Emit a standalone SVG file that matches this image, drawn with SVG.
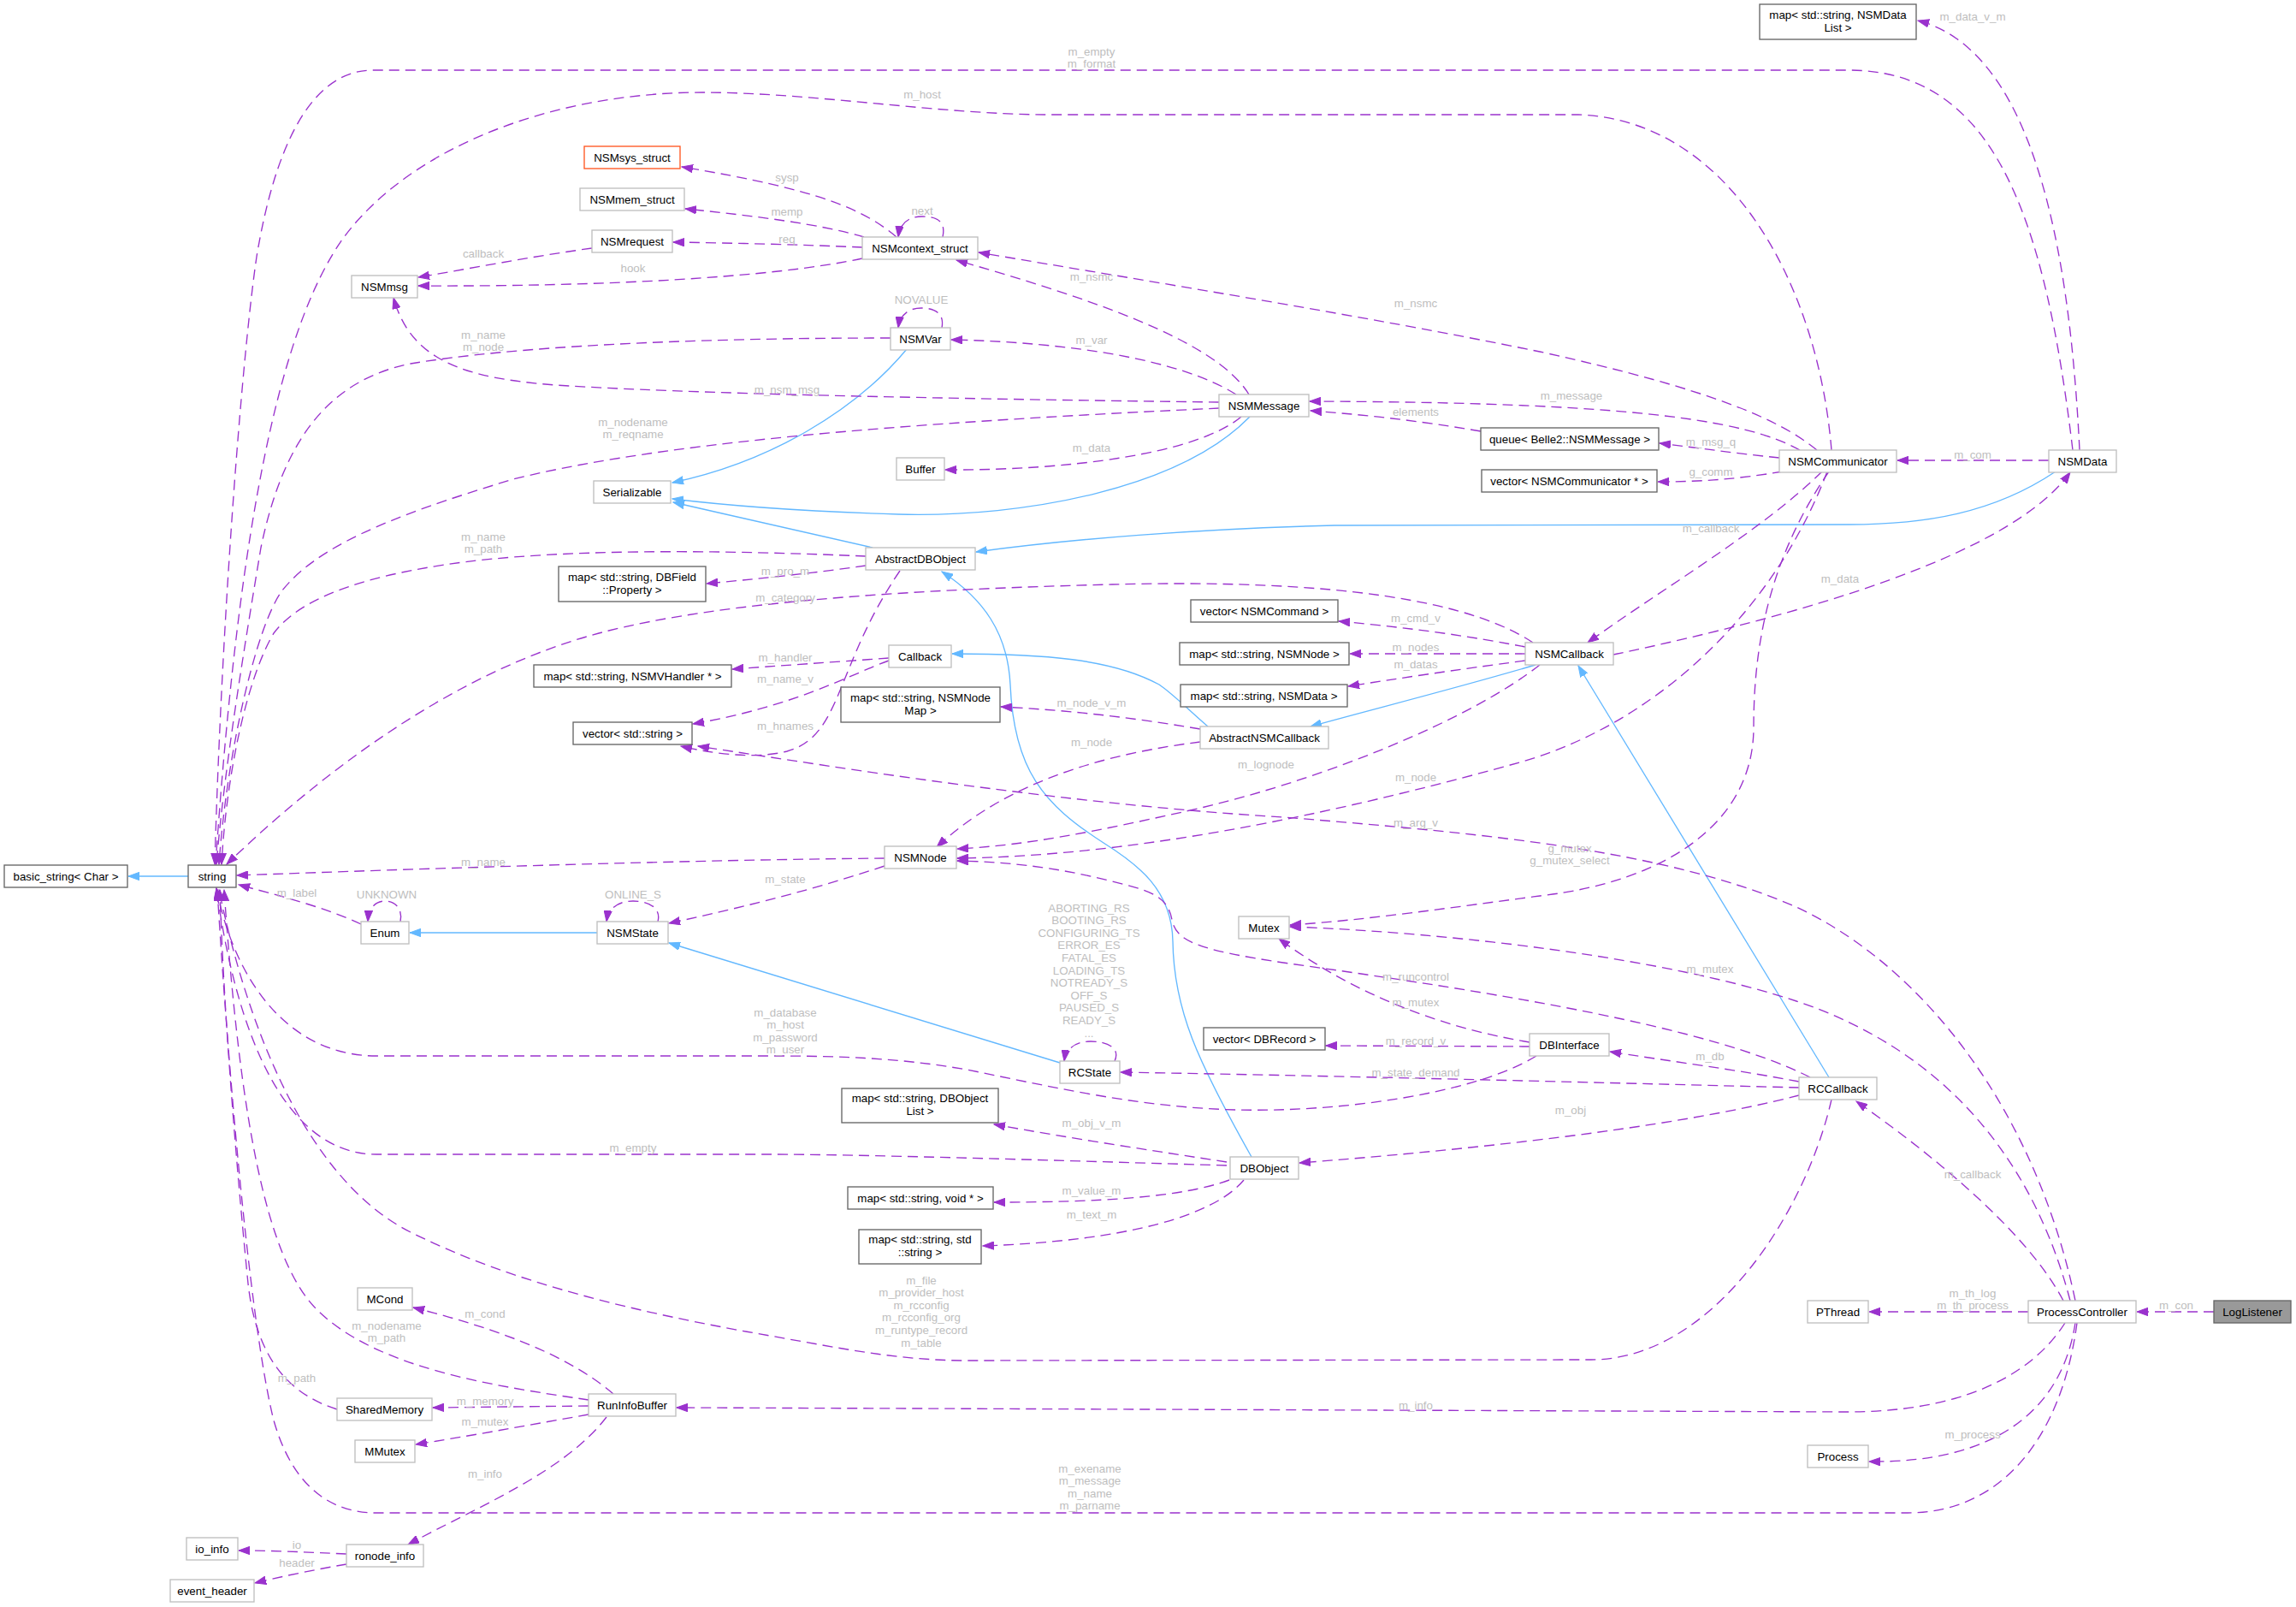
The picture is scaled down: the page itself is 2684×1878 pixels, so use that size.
<svg xmlns="http://www.w3.org/2000/svg" width="2684" height="1878" viewBox="0 0 2684 1878">
<defs>
<marker id="ap" markerUnits="userSpaceOnUse" markerWidth="14" markerHeight="10" viewBox="0 0 14 10" refX="13" refY="5" orient="auto"><path d="M0,0.3 L13,5 L0,9.7 Z" fill="#9a32cd" stroke="#9a32cd" stroke-width="1"/></marker>
<marker id="ab" markerUnits="userSpaceOnUse" markerWidth="14" markerHeight="10" viewBox="0 0 14 10" refX="13" refY="5" orient="auto"><path d="M0,0.3 L13,5 L0,9.7 Z" fill="#63b8ff" stroke="#63b8ff" stroke-width="1"/></marker>
</defs>
<style>
.e{fill:none;stroke:#9a32cd;stroke-width:1.35;stroke-dasharray:12,7;marker-end:url(#ap)}
.i{fill:none;stroke:#63b8ff;stroke-width:1.35;marker-end:url(#ab)}
.lb text{font-family:"Liberation Sans",Arial,Helvetica,sans-serif;font-size:13.33px;fill:#bebebe;text-anchor:middle}
.n rect{fill:#ffffff;stroke:#bfbfbf;stroke-width:1.35}
.n.d rect{stroke:#666666}
.n.h rect{fill:#999999;stroke:#666666}
.n.r rect{stroke:#ff5722}
.n text{font-family:"Liberation Sans",Arial,Helvetica,sans-serif;font-size:13.33px;fill:#000000;text-anchor:middle}
</style>
<rect x="0" y="0" width="2684" height="1878" fill="#ffffff"/>
<g id="connectors">
<!-- inheritance -->
<path class="i" d="M220,1024 L150,1024"/>
<path class="i" d="M1060,408 C1000,480 900,540 786,564"/>
<path class="i" d="M1461,487 C1380,570 1200,605 1050,601 C950,598 860,592 786,583"/>
<path class="i" d="M1020,640 C960,626 870,606 787,587"/>
<path class="i" d="M2403,551 C2330,600 2250,613 2161,613 L1560,614 C1400,618 1250,630 1141,645"/>
<path class="i" d="M1463,1352 C1400,1240 1372,1180 1371,1100 C1370,1040 1330,1010 1290,985 C1220,940 1185,900 1181,800 C1178,740 1150,700 1101,668"/>
<path class="i" d="M1412,849 C1390,830 1370,810 1355,800 C1300,770 1220,764 1113,764"/>
<path class="i" d="M1795,777 C1700,805 1600,830 1532,849"/>
<path class="i" d="M2138,1259 L1845,778"/>
<path class="i" d="M698,1090 L479,1090"/>
<path class="i" d="M1239,1242 L782,1102"/>
<!-- usage -->
<path class="e" d="M1048,277 C1010,245 960,222 797,195"/>
<path class="e" d="M1010,277 C960,262 880,252 801,244"/>
<path class="e" d="M1008,289 C940,286 860,284 787,283"/>
<path class="e" d="M1008,302 C900,325 700,335 489,334"/>
<path class="e" d="M692,290 C620,300 560,312 489,324"/>
<path class="e" d="M1102,277 C1106,258 1095,253 1078,253 C1063,253 1052,260 1050,277"/>
<path class="e" d="M1460,461 C1420,395 1260,345 1118,304"/>
<path class="e" d="M2124,526 C2080,490 2000,455 1800,411 C1600,370 1350,330 1144,295"/>
<path class="e" d="M1041,395 C800,395 600,405 480,425 C380,445 330,520 305,640 C285,760 262,900 253,1010"/>
<path class="e" d="M2423,526 C2390,250 2330,82 2161,82 L436,82 C360,82 320,180 300,300 C285,400 260,700 251,1010"/>
<path class="e" d="M2141,526 C2125,330 2020,140 1845,134 L1227,134 C1100,134 950,108 821,108 C650,108 480,170 400,280 C330,380 280,600 252,1010"/>
<path class="e" d="M1425,477 C1150,490 800,510 600,560 C450,605 370,640 330,690 C300,730 265,880 256,1010"/>
<path class="e" d="M1012,650 C850,643 650,640 520,660 C420,675 350,700 320,740 C290,790 265,900 259,1010"/>
<path class="e" d="M1792,751 C1700,690 1500,678 1300,683 C1100,688 850,700 700,740 C550,780 400,880 265,1010"/>
<path class="e" d="M1034,1003 C800,1005 500,1015 277,1023"/>
<path class="e" d="M422,1080 C380,1060 320,1045 279,1034"/>
<path class="e" d="M1796,1234 C1720,1280 1560,1300 1445,1297 C1330,1294 1230,1270 1130,1250 C1050,1236 980,1234 900,1234 L440,1234 C340,1234 275,1150 253,1038"/>
<path class="e" d="M1434,1362 C1200,1355 1000,1349 900,1349 L440,1349 C330,1349 275,1200 253,1038"/>
<path class="e" d="M2141,1285 C2110,1420 2000,1589 1860,1589 L1130,1590 C1050,1590 980,1575 900,1561 C750,1535 600,1500 480,1440 C380,1390 300,1250 256,1040"/>
<path class="e" d="M688,1636 C580,1620 440,1600 370,1530 C310,1470 280,1300 262,1040"/>
<path class="e" d="M394,1647 C340,1630 300,1590 290,1500 C280,1400 262,1200 257,1040"/>
<path class="e" d="M2428,1546 C2410,1680 2340,1768 2230,1768 L440,1768 C380,1768 340,1730 320,1660 C295,1560 270,1300 254,1040"/>
<path class="e" d="M1425,470 C1100,466 800,460 650,450 C540,442 480,420 460,348"/>
<path class="e" d="M1445,461 C1380,420 1250,400 1112,397"/>
<path class="e" d="M1101,383 C1104,368 1095,360 1077,360 C1062,360 1052,368 1050,383"/>
<path class="e" d="M1451,487 C1400,530 1250,550 1105,549"/>
<path class="e" d="M2104,526 C2040,490 1900,470 1531,469"/>
<path class="e" d="M1731,504 C1660,492 1600,485 1532,480"/>
<path class="e" d="M2080,535 C2030,530 1990,524 1940,518"/>
<path class="e" d="M2084,551 C2030,560 1990,563 1938,563"/>
<path class="e" d="M2395,538 L2218,538"/>
<path class="e" d="M2431,526 C2420,300 2380,60 2242,24"/>
<path class="e" d="M2130,551 C2060,620 1940,690 1856,751"/>
<path class="e" d="M2136,551 C2080,700 1950,840 1780,890 C1600,940 1350,1000 1119,1003"/>
<path class="e" d="M2138,551 C2070,650 2050,750 2050,850 C2050,960 1950,1030 1800,1047 C1700,1060 1600,1075 1508,1081"/>
<path class="e" d="M1886,765 C2100,720 2350,650 2420,552"/>
<path class="e" d="M1783,756 C1700,740 1630,732 1565,726"/>
<path class="e" d="M1783,764 L1578,764"/>
<path class="e" d="M1783,772 C1700,783 1640,792 1576,802"/>
<path class="e" d="M1800,777 C1720,840 1550,910 1400,945 C1280,972 1200,988 1119,992"/>
<path class="e" d="M1403,852 C1320,838 1250,830 1170,826"/>
<path class="e" d="M1403,867 C1300,880 1180,910 1095,990"/>
<path class="e" d="M1012,661 C950,670 880,677 826,682"/>
<path class="e" d="M1039,772 C990,790 930,825 810,846"/>
<path class="e" d="M1052,667 C975,780 985,860 920,878 C880,888 830,880 796,872"/>
<path class="e" d="M1039,769 C970,774 910,778 856,782"/>
<path class="e" d="M2426,1520 C2380,1300 2250,1130 2100,1060 C1950,995 1750,975 1500,955 C1250,940 1000,900 816,872"/>
<path class="e" d="M2420,1520 C2370,1330 2250,1220 2100,1170 C1950,1120 1700,1090 1508,1083"/>
<path class="e" d="M2412,1520 C2370,1440 2260,1350 2170,1287"/>
<path class="e" d="M2116,1259 C2000,1200 1750,1160 1500,1125 C1400,1110 1375,1100 1370,1075 C1365,1045 1340,1040 1300,1030 C1230,1012 1170,1007 1119,1006"/>
<path class="e" d="M1788,1218 C1680,1200 1580,1160 1495,1097"/>
<path class="e" d="M1788,1223 L1550,1222"/>
<path class="e" d="M2103,1264 C2030,1250 1950,1240 1882,1229"/>
<path class="e" d="M2103,1271 C1900,1266 1600,1258 1310,1253"/>
<path class="e" d="M2103,1280 C1950,1320 1700,1345 1519,1359"/>
<path class="e" d="M1303,1240 C1310,1225 1295,1217 1275,1217 C1258,1217 1246,1225 1244,1240"/>
<path class="e" d="M1034,1012 C950,1040 870,1060 782,1079"/>
<path class="e" d="M769,1077 C773,1062 760,1053 740,1053 C722,1053 711,1062 709,1077"/>
<path class="e" d="M468,1077 C471,1062 462,1053 450,1053 C438,1053 431,1062 430,1077"/>
<path class="e" d="M1434,1358 C1350,1345 1250,1330 1162,1314"/>
<path class="e" d="M1437,1379 C1380,1400 1280,1405 1162,1405"/>
<path class="e" d="M1454,1379 C1420,1420 1320,1450 1149,1456"/>
<path class="e" d="M717,1629 C660,1580 570,1550 483,1528"/>
<path class="e" d="M688,1643 L506,1645"/>
<path class="e" d="M688,1653 C620,1665 550,1678 486,1688"/>
<path class="e" d="M709,1656 C660,1720 560,1760 477,1805"/>
<path class="e" d="M405,1816 C360,1814 320,1812 279,1812"/>
<path class="e" d="M405,1828 C370,1834 330,1842 298,1850"/>
<path class="e" d="M2414,1546 C2370,1615 2280,1650 2160,1650 L791,1645"/>
<path class="e" d="M2371,1533 L2185,1533"/>
<path class="e" d="M2588,1533 L2498,1533"/>
<path class="e" d="M2426,1546 C2410,1650 2330,1710 2185,1708"/>
</g>
<g id="edge-labels" class="lb">
<text x="1276" y="64.5">m_empty<tspan x="1276" dy="14.5">m_format</tspan></text>
<text x="1078" y="114.5">m_host</text>
<text x="920" y="211.5">sysp</text>
<text x="920" y="251.5">memp</text>
<text x="1078" y="250.5">next</text>
<text x="920" y="283.5">req</text>
<text x="565" y="300.5">callback</text>
<text x="740" y="317.5">hook</text>
<text x="1276" y="327.5">m_nsmc</text>
<text x="1655" y="358.5">m_nsmc</text>
<text x="1077" y="354.5">NOVALUE</text>
<text x="565" y="395.5">m_name<tspan x="565" dy="14.5">m_node</tspan></text>
<text x="1276" y="401.5">m_var</text>
<text x="920" y="459.5">m_nsm_msg</text>
<text x="1837" y="466.5">m_message</text>
<text x="1655" y="485.5">elements</text>
<text x="740" y="497.5">m_nodename<tspan x="740" dy="14.5">m_reqname</tspan></text>
<text x="2000" y="520.5">m_msg_q</text>
<text x="1276" y="527.5">m_data</text>
<text x="2306" y="535.5">m_com</text>
<text x="2000" y="555.5">g_comm</text>
<text x="2306" y="23.5">m_data_v_m</text>
<text x="2000" y="621.5">m_callback</text>
<text x="565" y="631.5">m_name<tspan x="565" dy="14.5">m_path</tspan></text>
<text x="918" y="671.5">m_pro_m</text>
<text x="2151" y="680.5">m_data</text>
<text x="918" y="702.5">m_category</text>
<text x="1655" y="726.5">m_cmd_v</text>
<text x="1655" y="760.5">m_nodes</text>
<text x="918" y="772.5">m_handler</text>
<text x="1655" y="780.5">m_datas</text>
<text x="918" y="797.5">m_name_v</text>
<text x="1276" y="825.5">m_node_v_m</text>
<text x="918" y="852.5">m_hnames</text>
<text x="1276" y="871.5">m_node</text>
<text x="1480" y="897.5">m_lognode</text>
<text x="1655" y="912.5">m_node</text>
<text x="1655" y="965.5">m_arg_v</text>
<text x="1835" y="995.5">g_mutex<tspan x="1835" dy="14.5">g_mutex_select</tspan></text>
<text x="565" y="1011.5">m_name</text>
<text x="918" y="1031.5">m_state</text>
<text x="347" y="1047.5">m_label</text>
<text x="452" y="1049.5">UNKNOWN</text>
<text x="740" y="1049.5">ONLINE_S</text>
<text x="1273" y="1065.5">ABORTING_RS<tspan x="1273" dy="14.6">BOOTING_RS</tspan><tspan x="1273" dy="14.6">CONFIGURING_TS</tspan><tspan x="1273" dy="14.6">ERROR_ES</tspan><tspan x="1273" dy="14.6">FATAL_ES</tspan><tspan x="1273" dy="14.6">LOADING_TS</tspan><tspan x="1273" dy="14.6">NOTREADY_S</tspan><tspan x="1273" dy="14.6">OFF_S</tspan><tspan x="1273" dy="14.6">PAUSED_S</tspan><tspan x="1273" dy="14.6">READY_S</tspan><tspan x="1273" dy="14.6">...</tspan></text>
<text x="1999" y="1136.5">m_mutex</text>
<text x="1655" y="1145.5">m_runcontrol</text>
<text x="1655" y="1175.5">m_mutex</text>
<text x="918" y="1187.5">m_database<tspan x="918" dy="14.6">m_host</tspan><tspan x="918" dy="14.6">m_password</tspan><tspan x="918" dy="14.6">m_user</tspan></text>
<text x="1655" y="1220.5">m_record_v</text>
<text x="1999" y="1238.5">m_db</text>
<text x="1655" y="1257.5">m_state_demand</text>
<text x="1836" y="1301.5">m_obj</text>
<text x="1276" y="1316.5">m_obj_v_m</text>
<text x="740" y="1345.5">m_empty</text>
<text x="2306" y="1376.5">m_callback</text>
<text x="1276" y="1395.5">m_value_m</text>
<text x="1276" y="1423.5">m_text_m</text>
<text x="1077" y="1500.5">m_file<tspan x="1077" dy="14.6">m_provider_host</tspan><tspan x="1077" dy="14.6">m_rcconfig</tspan><tspan x="1077" dy="14.6">m_rcconfig_org</tspan><tspan x="1077" dy="14.6">m_runtype_record</tspan><tspan x="1077" dy="14.6">m_table</tspan></text>
<text x="2306" y="1515.5">m_th_log<tspan x="2306" dy="14.5">m_th_process</tspan></text>
<text x="2544" y="1529.5">m_con</text>
<text x="567" y="1539.5">m_cond</text>
<text x="452" y="1553.5">m_nodename<tspan x="452" dy="14.5">m_path</tspan></text>
<text x="347" y="1614.5">m_path</text>
<text x="567" y="1641.5">m_memory</text>
<text x="1655" y="1646.5">m_info</text>
<text x="567" y="1665.5">m_mutex</text>
<text x="2306" y="1680.5">m_process</text>
<text x="1274" y="1720.5">m_exename<tspan x="1274" dy="14.6">m_message</tspan><tspan x="1274" dy="14.6">m_name</tspan><tspan x="1274" dy="14.6">m_parname</tspan></text>
<text x="567" y="1726.5">m_info</text>
<text x="347" y="1809.5">io</text>
<text x="347" y="1830.5">header</text>
</g>
<g id="node-LogListener" class="n h"><rect x="2588" y="1520" width="90" height="26"/><text x="2633" y="1537.5">LogListener</text></g>
<g id="node-ProcessController" class="n"><rect x="2371" y="1520" width="126" height="26"/><text x="2434" y="1537.5">ProcessController</text></g>
<g id="node-PThread" class="n"><rect x="2113" y="1520" width="71" height="26"/><text x="2148.5" y="1537.5">PThread</text></g>
<g id="node-Process" class="n"><rect x="2113" y="1689" width="71" height="26"/><text x="2148.5" y="1706.5">Process</text></g>
<g id="node-RCCallback" class="n"><rect x="2103" y="1259" width="91" height="26"/><text x="2148.5" y="1276.5">RCCallback</text></g>
<g id="node-DBInterface" class="n"><rect x="1788" y="1208" width="93" height="26"/><text x="1834.5" y="1225.5">DBInterface</text></g>
<g id="node-vector-DBRecord" class="n d"><rect x="1407" y="1201" width="142" height="26"/><text x="1478" y="1218.5">vector&lt; DBRecord &gt;</text></g>
<g id="node-Mutex" class="n"><rect x="1448" y="1071" width="59" height="26"/><text x="1477.5" y="1088.5">Mutex</text></g>
<g id="node-RCState" class="n"><rect x="1239" y="1240" width="70" height="26"/><text x="1274" y="1257.5">RCState</text></g>
<g id="node-map-DBObjectList" class="n d"><rect x="984" y="1272" width="183" height="40"/><text x="1075.5" y="1288">map&lt; std::string, DBObject</text><text x="1075.5" y="1303">List &gt;</text></g>
<g id="node-DBObject" class="n"><rect x="1438" y="1352" width="80" height="26"/><text x="1478" y="1369.5">DBObject</text></g>
<g id="node-map-void" class="n d"><rect x="991" y="1387" width="170" height="26"/><text x="1076" y="1404.5">map&lt; std::string, void * &gt;</text></g>
<g id="node-map-string" class="n d"><rect x="1004" y="1437" width="143" height="40"/><text x="1075.5" y="1453">map&lt; std::string, std</text><text x="1075.5" y="1468">::string &gt;</text></g>
<g id="node-NSMNode" class="n"><rect x="1034" y="989" width="84" height="26"/><text x="1076" y="1006.5">NSMNode</text></g>
<g id="node-NSMState" class="n"><rect x="698" y="1077" width="83" height="26"/><text x="739.5" y="1094.5">NSMState</text></g>
<g id="node-Enum" class="n"><rect x="422" y="1077" width="56" height="26"/><text x="450" y="1094.5">Enum</text></g>
<g id="node-string" class="n d"><rect x="220" y="1011" width="56" height="26"/><text x="248" y="1028.5">string</text></g>
<g id="node-basic_string" class="n d"><rect x="5" y="1011" width="144" height="26"/><text x="77" y="1028.5">basic_string&lt; Char &gt;</text></g>
<g id="node-MCond" class="n"><rect x="418" y="1505" width="64" height="26"/><text x="450" y="1522.5">MCond</text></g>
<g id="node-SharedMemory" class="n"><rect x="394" y="1634" width="111" height="26"/><text x="449.5" y="1651.5">SharedMemory</text></g>
<g id="node-RunInfoBuffer" class="n"><rect x="688" y="1629" width="102" height="26"/><text x="739" y="1646.5">RunInfoBuffer</text></g>
<g id="node-MMutex" class="n"><rect x="415" y="1683" width="70" height="26"/><text x="450" y="1700.5">MMutex</text></g>
<g id="node-ronode_info" class="n"><rect x="405" y="1805" width="90" height="26"/><text x="450" y="1822.5">ronode_info</text></g>
<g id="node-io_info" class="n"><rect x="218" y="1797" width="60" height="26"/><text x="248" y="1814.5">io_info</text></g>
<g id="node-event_header" class="n"><rect x="199" y="1846" width="98" height="26"/><text x="248" y="1863.5">event_header</text></g>
<g id="node-NSMsys_struct" class="n r"><rect x="683" y="171" width="112" height="26"/><text x="739" y="188.5">NSMsys_struct</text></g>
<g id="node-NSMmem_struct" class="n"><rect x="678" y="220" width="122" height="26"/><text x="739" y="237.5">NSMmem_struct</text></g>
<g id="node-NSMrequest" class="n"><rect x="692" y="269" width="94" height="26"/><text x="739" y="286.5">NSMrequest</text></g>
<g id="node-NSMmsg" class="n"><rect x="411" y="322" width="77" height="26"/><text x="449.5" y="339.5">NSMmsg</text></g>
<g id="node-NSMcontext_struct" class="n"><rect x="1008" y="277" width="135" height="26"/><text x="1075.5" y="294.5">NSMcontext_struct</text></g>
<g id="node-NSMVar" class="n"><rect x="1041" y="383" width="70" height="26"/><text x="1076" y="400.5">NSMVar</text></g>
<g id="node-NSMMessage" class="n"><rect x="1425" y="461" width="105" height="26"/><text x="1477.5" y="478.5">NSMMessage</text></g>
<g id="node-Serializable" class="n"><rect x="694" y="562" width="90" height="26"/><text x="739" y="579.5">Serializable</text></g>
<g id="node-Buffer" class="n"><rect x="1048" y="535" width="56" height="26"/><text x="1076" y="552.5">Buffer</text></g>
<g id="node-AbstractDBObject" class="n"><rect x="1012" y="640" width="128" height="26"/><text x="1076" y="657.5">AbstractDBObject</text></g>
<g id="node-map-DBFieldProperty" class="n d"><rect x="653" y="662" width="172" height="41"/><text x="739" y="679">map&lt; std::string, DBField</text><text x="739" y="694">::Property &gt;</text></g>
<g id="node-map-NSMVHandler" class="n d"><rect x="624" y="777" width="231" height="26"/><text x="739.5" y="794.5">map&lt; std::string, NSMVHandler * &gt;</text></g>
<g id="node-vector-string" class="n d"><rect x="670" y="844" width="139" height="26"/><text x="739.5" y="861.5">vector&lt; std::string &gt;</text></g>
<g id="node-Callback" class="n"><rect x="1039" y="754" width="73" height="26"/><text x="1075.5" y="771.5">Callback</text></g>
<g id="node-map-NSMNodeMap" class="n d"><rect x="983" y="803" width="186" height="41"/><text x="1076" y="820">map&lt; std::string, NSMNode</text><text x="1076" y="835">Map &gt;</text></g>
<g id="node-AbstractNSMCallback" class="n"><rect x="1403" y="849" width="150" height="26"/><text x="1478" y="866.5">AbstractNSMCallback</text></g>
<g id="node-vector-NSMCommand" class="n d"><rect x="1392" y="701" width="172" height="26"/><text x="1478" y="718.5">vector&lt; NSMCommand &gt;</text></g>
<g id="node-map-NSMNode" class="n d"><rect x="1379" y="751" width="198" height="26"/><text x="1478" y="768.5">map&lt; std::string, NSMNode &gt;</text></g>
<g id="node-map-NSMData" class="n d"><rect x="1380" y="800" width="195" height="26"/><text x="1477.5" y="817.5">map&lt; std::string, NSMData &gt;</text></g>
<g id="node-NSMCallback" class="n"><rect x="1783" y="751" width="103" height="26"/><text x="1834.5" y="768.5">NSMCallback</text></g>
<g id="node-queue-NSMMessage" class="n d"><rect x="1731" y="500" width="208" height="26"/><text x="1835" y="517.5">queue&lt; Belle2::NSMMessage &gt;</text></g>
<g id="node-vector-NSMCommunicator" class="n d"><rect x="1732" y="549" width="205" height="26"/><text x="1834.5" y="566.5">vector&lt; NSMCommunicator * &gt;</text></g>
<g id="node-NSMCommunicator" class="n"><rect x="2080" y="526" width="137" height="26"/><text x="2148.5" y="543.5">NSMCommunicator</text></g>
<g id="node-NSMData" class="n"><rect x="2395" y="526" width="79" height="26"/><text x="2434.5" y="543.5">NSMData</text></g>
<g id="node-map-NSMDataList" class="n d"><rect x="2057" y="5" width="183" height="41"/><text x="2148.5" y="22">map&lt; std::string, NSMData</text><text x="2148.5" y="37">List &gt;</text></g>
</svg>
